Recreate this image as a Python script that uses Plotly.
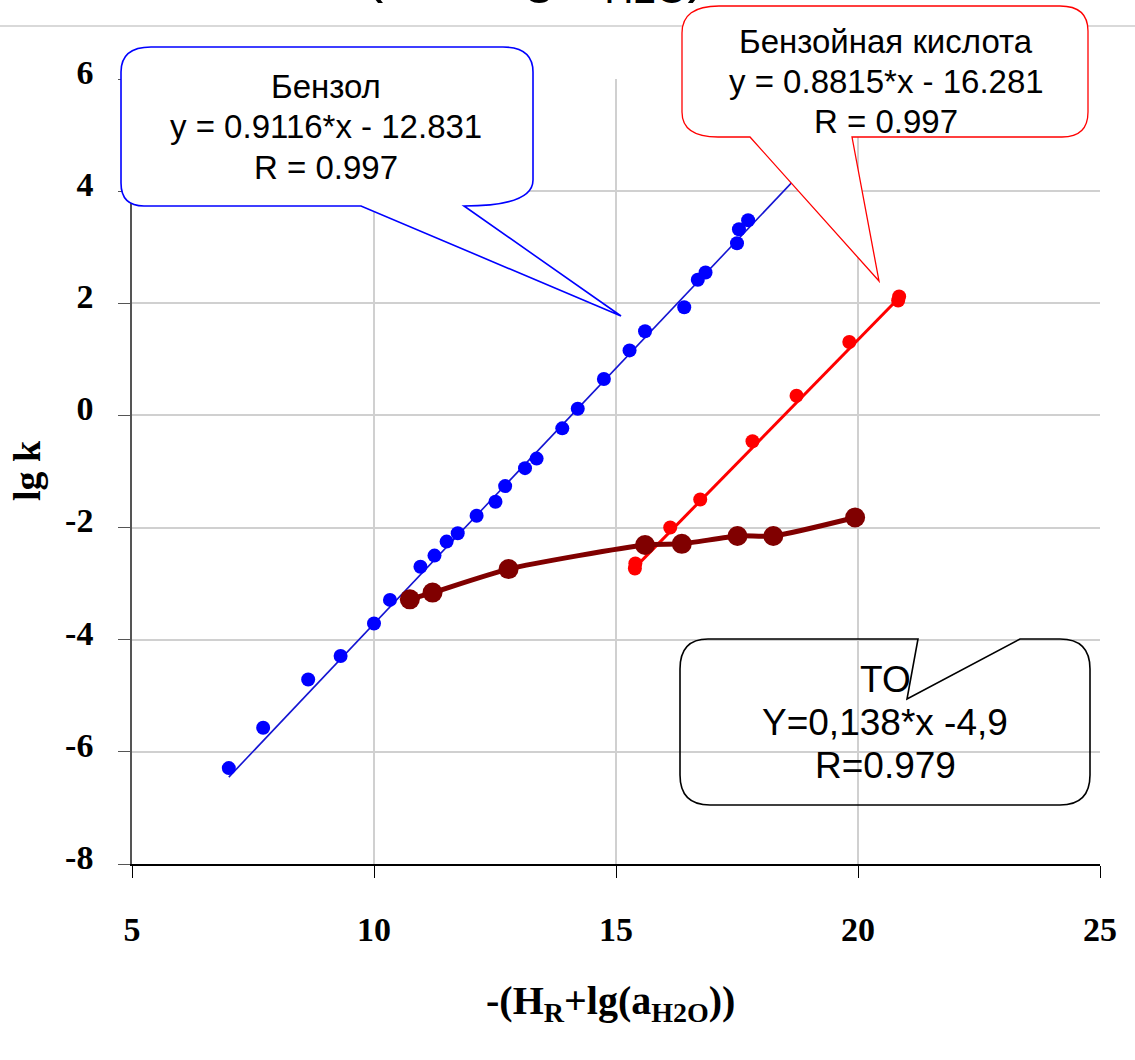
import plotly.graph_objects as go

# ---------------- data ----------------
benzene_x = [7.00, 7.71, 8.64, 9.31, 10.00, 10.33, 10.96, 11.25, 11.50, 11.73, 12.12, 12.51, 12.71,
             13.12, 13.36, 13.89, 14.21, 14.75, 15.28, 15.60, 16.41, 16.69, 16.85, 17.50, 17.54, 17.73]
benzene_y = [-6.29, -5.57, -4.71, -4.29, -3.71, -3.29, -2.70, -2.50, -2.25, -2.10, -1.79, -1.54, -1.26,
             -0.94, -0.77, -0.23, 0.12, 0.65, 1.16, 1.50, 1.93, 2.42, 2.55, 3.07, 3.32, 3.48]

benzoic_x = [15.39, 15.40, 16.12, 16.74, 17.82, 18.73, 19.82, 20.83, 20.85]
benzoic_y = [-2.73, -2.64, -2.00, -1.50, -0.46, 0.35, 1.31, 2.05, 2.12]

to_x = [10.74, 11.21, 12.78, 15.60, 16.36, 17.51, 18.25, 19.94]
to_y = [-3.28, -3.16, -2.74, -2.31, -2.29, -2.15, -2.15, -1.82]

benzene_fit = (0.9116, -12.831)
benzoic_fit = (0.8815, -16.281)
benzene_fit_x = [7.0, 19.6]
benzoic_fit_x = [15.35, 20.9]

x_ticks = [5, 10, 15, 20, 25]
y_ticks = [-8, -6, -4, -2, 0, 2, 4, 6]

# ---------------- layout geometry ----------------
W, H = 1135, 1060
PL, PR, PT, PB = 132, 1100, 79, 864


def px(x):
    return (x - PL) / (PR - PL)


def py(y):
    return (PB - y) / (PB - PT)


def path(cmds):
    out = []
    for c in cmds:
        op = c[0]
        pts = c[1:]
        coords = [f"{px(a):.5f},{py(b):.5f}" for (a, b) in pts]
        out.append(op + " " + " ".join(coords) if coords else op)
    return " ".join(out)


fig = go.Figure()

# trend lines
fig.add_trace(go.Scatter(
    x=benzene_fit_x, y=[benzene_fit[0] * v + benzene_fit[1] for v in benzene_fit_x],
    mode="lines", line=dict(color="#1414d2", width=1.6), showlegend=False, hoverinfo="skip"))
fig.add_trace(go.Scatter(
    x=benzoic_fit_x, y=[benzoic_fit[0] * v + benzoic_fit[1] for v in benzoic_fit_x],
    mode="lines", line=dict(color="#ff0000", width=3), showlegend=False, hoverinfo="skip"))

# TO series (smoothed line)
fig.add_trace(go.Scatter(
    x=to_x, y=to_y, mode="lines+markers",
    line=dict(color="#800000", width=5, shape="spline", smoothing=0.6),
    marker=dict(color="#800000", size=20), showlegend=False))

# points
fig.add_trace(go.Scatter(x=benzoic_x, y=benzoic_y, mode="markers",
                         marker=dict(color="#ff0000", size=14), showlegend=False))
fig.add_trace(go.Scatter(x=benzene_x, y=benzene_y, mode="markers",
                         marker=dict(color="#0000ff", size=14), showlegend=False))

shapes = []
# top chart border line
shapes.append(dict(type="line", xref="paper", yref="paper",
                   x0=px(0), x1=px(W), y0=py(26), y1=py(26),
                   line=dict(color="#cccccc", width=1.5), layer="below"))

# Blue callout (Бензол)
blue_path = path([
    ("M", (151, 47)), ("L", (503, 47)), ("Q", (533, 47), (533, 72)),
    ("L", (533, 180)), ("Q", (533, 206), (464, 206)),
    ("L", (621, 316)), ("L", (361, 206)), ("L", (144, 206)),
    ("Q", (121, 206), (121, 183)), ("L", (121, 72)), ("Q", (121, 47), (151, 47)), ("Z",)
])
shapes.append(dict(type="path", xref="paper", yref="paper", path=blue_path,
                   fillcolor="white", line=dict(color="#0000ff", width=1.6), layer="above"))

# Red callout (Бензойная кислота)
red_path = path([
    ("M", (719, 6)), ("L", (1060, 6)), ("Q", (1088, 6), (1088, 31)),
    ("L", (1088, 112)), ("Q", (1088, 137), (1062, 137)),
    ("L", (852, 137)), ("L", (879, 281)), ("L", (750, 137)), ("L", (718, 137)),
    ("Q", (682, 137), (682, 112)), ("L", (682, 33)), ("Q", (682, 6), (719, 6)), ("Z",)
])
shapes.append(dict(type="path", xref="paper", yref="paper", path=red_path,
                   fillcolor="white", line=dict(color="#ff0000", width=1.3), layer="above"))

# TO callout (transparent)
to_path = path([
    ("M", (708, 639)), ("L", (918, 639)), ("L", (907, 699)), ("L", (1020, 639)),
    ("L", (1060, 639)), ("Q", (1090, 639), (1090, 669)), ("L", (1090, 775)),
    ("Q", (1090, 805), (1060, 805)), ("L", (710, 805)), ("Q", (680, 805), (680, 775)),
    ("L", (680, 669)), ("Q", (680, 639), (708, 639)), ("Z",)
])
shapes.append(dict(type="path", xref="paper", yref="paper", path=to_path,
                   fillcolor="rgba(0,0,0,0)", line=dict(color="black", width=1.6), layer="above"))

annotations = []
SANS = "Liberation Sans, Arial, sans-serif"
SERIF = "Liberation Serif, Times New Roman, serif"


def add_text(text, x, y, size, family=SANS, bold=False, angle=0, xanchor="center", yanchor="middle"):
    annotations.append(dict(
        text=text, xref="paper", yref="paper", x=px(x), y=py(y),
        xanchor=xanchor, yanchor=yanchor, showarrow=False, textangle=angle,
        font=dict(family=family, size=size, color="black", weight="bold" if bold else "normal")))


for t, yy in zip(["Бензол", "y = 0.9116*x - 12.831", "R = 0.997"], [86, 127, 167]):
    add_text(t, 326, yy, 33)
for t, yy in zip(["Бензойная кислота", "y = 0.8815*x - 16.281", "R = 0.997"], [41, 81, 121]):
    add_text(t, 886, yy, 33)
for t, yy in zip(["TO", "Y=0,138*x -4,9", "R=0.979"], [679, 722, 765]):
    add_text(t, 885, yy, 37)

# axis titles
add_text("-(H<sub>R</sub>+lg(a<sub>H2O</sub>))", 610, 1003, 40, family=SERIF, bold=True)
add_text("lg k", 27, 471, 38, family=SERIF, bold=True, angle=-90)

# partially visible chart title at the very top (cropped in the original too)
add_text("(-H + lg a<sub>H2O</sub>)", 362, 14, 58, xanchor="left", yanchor="bottom")

fig.update_layout(
    width=W, height=H,
    margin=dict(l=PL, r=W - PR, t=PT, b=H - PB, pad=0),
    paper_bgcolor="white", plot_bgcolor="white",
    shapes=shapes, annotations=annotations,
    showlegend=False,
    xaxis=dict(range=[5, 25], tickvals=x_ticks, ticktext=[str(v) for v in x_ticks],
               showgrid=True, gridcolor="#d0d0d0", gridwidth=1.5,
               showline=True, linecolor="black", linewidth=1.5,
               ticks="outside", ticklen=12, tickcolor="black", tickwidth=1.2,
               ticklabelstandoff=22,
               tickfont=dict(family=SERIF, size=34, color="black", weight="bold"),
               zeroline=False),
    yaxis=dict(range=[-8, 6], tickvals=y_ticks, ticktext=[str(v) for v in y_ticks],
               showgrid=True, gridcolor="#d0d0d0", gridwidth=1.5,
               showline=True, linecolor="#555555", linewidth=1.5,
               ticks="outside", ticklen=12, tickcolor="#555555", tickwidth=1.2,
               ticklabelstandoff=18, ticklabelshift=-7,
               tickfont=dict(family=SERIF, size=34, color="black", weight="bold"),
               zeroline=False),
)

fig.write_html("out.html", config={"displayModeBar": False},
               post_script="document.body.style.margin='0';document.body.style.overflow='hidden';")
